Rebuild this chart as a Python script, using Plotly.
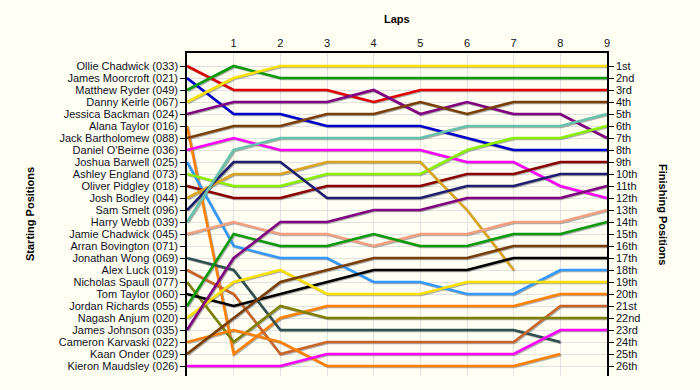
import plotly.graph_objects as go

# ---------------- data ----------------
laps = [0, 1, 2, 3, 4, 5, 6, 7, 8, 9]
lap_ticks = [1, 2, 3, 4, 5, 6, 7, 8, 9]

drivers = [
    "Ollie Chadwick (033)", "James Moorcroft (021)", "Matthew Ryder (049)",
    "Danny Keirle (067)", "Jessica Backman (024)", "Alana Taylor (016)",
    "Jack Bartholomew (088)", "Daniel O'Beirne (036)", "Joshua Barwell (025)",
    "Ashley England (073)", "Oliver Pidgley (018)", "Josh Bodley (044)",
    "Sam Smelt (096)", "Harry Webb (039)", "Jamie Chadwick (045)",
    "Arran Bovington (071)", "Jonathan Wong (069)", "Alex Luck (019)",
    "Nicholas Spaull (077)", "Tom Taylor (060)", "Jordan Richards (055)",
    "Nagash Anjum (020)", "James Johnson (035)", "Cameron Karvaski (022)",
    "Kaan Onder (029)", "Kieron Maudsley (026)",
]

finish_labels = [
    "1st", "2nd", "3rd", "4th", "5th", "6th", "7th", "8th", "9th", "10th",
    "11th", "12th", "13th", "14th", "15th", "16th", "17th", "18th", "19th",
    "20th", "21st", "22nd", "23rd", "24th", "25th", "26th",
]

# position of each driver at the end of each lap (lap 0 = grid)
p033 = [1, 3, 3, 3, 4, 3, 3, 3, 3, 3]
p021 = [2, 5, 5, 6, 6, 6, 7, 8, 8, 8]
p049 = [3, 1, 2, 2, 2, 2, 2, 2, 2, 2]
p067 = [4, 2, 1, 1, 1, 1, 1, 1, 1, 1]
p024 = [5, 4, 4, 4, 3, 5, 4, 5, 5, 7]
p016 = [6, 25, 22, 21, 21, 21, 21, 21, 20, 20]
p088 = [7, 6, 6, 5, 5, 4, 5, 4, 4, 4]
p036 = [8, 7, 8, 8, 8, 8, 9, 9, 11, 12]
p025 = [9, 16, 17, 17, 19, 19, 20, 20, 18, 18]
p073 = [10, 11, 11, 10, 10, 10, 8, 7, 7, 6]
p018 = [11, 12, 12, 11, 11, 11, 10, 10, 9, 9]
p044 = [12, 10, 10, 9, 9, 9, 13, 18]
p096 = [13, 9, 9, 12, 12, 12, 11, 11, 10, 10]
p039 = [14, 8, 7, 7, 7, 7, 6, 6, 6, 5]
p045 = [15, 14, 15, 15, 16, 15, 15, 14, 14, 13]
p071 = [16, 13, 13, 13, 14, 14, 14, 13, 13, 15]
p069 = [17, 18, 23, 23, 23, 23, 23, 23, 24]
p019 = [18, 20, 25, 24, 24, 24, 24, 24, 21, 21]
p077 = [19, 24, 21, 22, 22, 22, 22, 22, 22, 22]
p060 = [20, 21, 20, 19, 18, 18, 18, 17, 17, 17]
p055 = [21, 15, 16, 16, 15, 16, 16, 15, 15, 14]
p020 = [22, 19, 18, 20, 20, 20, 19, 19, 19, 19]
p035 = [23, 17, 14, 14, 13, 13, 12, 12, 12, 11]
p022 = [24, 23, 24, 26, 26, 26, 26, 26, 25]
p029 = [25, 22, 19, 18, 17, 17, 17, 16, 16, 16]
p026 = [26, 26, 26, 25, 25, 25, 25, 25, 23, 23]

positions = [p033, p021, p049, p067, p024, p016, p088, p036, p025, p073,
             p018, p044, p096, p039, p045, p071, p069, p019, p077, p060,
             p055, p020, p035, p022, p029, p026]

colors = [
    "#E00000", "#0000CC", "#0A9A0A", "#F8E000", "#800080", "#FF8000",
    "#7A3E08", "#FF00FF", "#3399FF", "#88F000", "#8B0000", "#DAA520",
    "#1E1E6E", "#66C2AA", "#F4A080", None, "#2F4F4F", "#C8642A",
    "#808000", "#000000", "#0A9A0A", "#F8E000", "#800080", "#FF8000",
    "#7A3E08", "#FF00FF",
]

# ---------------- styling ----------------
BG = "#FFFFF4"
GRID = "#E2E2E2"
TXT = "#10101E"
FONT = "Liberation Sans, Arial, sans-serif"

W, H = 700, 390
ML, MR, MT, MB = 187, 93, 53, 14
plot_w = W - ML - MR
plot_h = H - MT - MB
x_rng = [0, 9]
y_top = -0.083
y_bot = y_top + plot_h / 12.0
px_x = (x_rng[1] - x_rng[0]) / plot_w      # data units per px
px_y = (y_bot - y_top) / plot_h

fig = go.Figure()

# shadows (base subplot, shifted 1 px right/down)
for name, pos, col in zip(drivers, positions, colors):
    if col is None:
        continue
    fig.add_trace(go.Scatter(
        x=laps[:len(pos)], y=pos, mode="lines", xaxis="x", yaxis="y",
        line=dict(color="rgba(110,110,110,0.55)", width=2.6),
        hoverinfo="skip", showlegend=False))

# main lines
for name, pos, col in zip(drivers, positions, colors):
    if col is None:
        continue
    fig.add_trace(go.Scatter(
        x=laps[:len(pos)], y=pos, mode="lines", xaxis="x2", yaxis="y2",
        name=name, line=dict(color=col, width=2.6), showlegend=False))

# empty trace so that the right-hand (finishing) axis is created
fig.add_trace(go.Scatter(x=[None], y=[None], mode="lines", xaxis="x2", yaxis="y3",
                         hoverinfo="skip", showlegend=False))

fig.update_layout(
    width=W, height=H,
    margin=dict(l=ML, r=MR, t=MT, b=MB, pad=0),
    paper_bgcolor=BG, plot_bgcolor=BG,
    font=dict(family=FONT, size=11, color=TXT),
    showlegend=False,
    xaxis=dict(range=[x_rng[0] - px_x, x_rng[1] - px_x], visible=False,
               domain=[0, 1], fixedrange=True),
    yaxis=dict(range=[y_bot - px_y, y_top - px_y], visible=False,
               domain=[0, 1], fixedrange=True),
    xaxis2=dict(overlaying="x", side="top", range=x_rng, anchor="y2",
                tickmode="array", tickvals=lap_ticks, ticks="",
                showgrid=True, gridcolor=GRID, gridwidth=1, zeroline=False,
                showline=True, linecolor="#000000", linewidth=1.5,
                tickfont=dict(size=11, color=TXT)),
    yaxis2=dict(overlaying="y", side="left", anchor="x2", range=[y_bot, y_top],
                tickmode="array", tickvals=list(range(1, 27)), ticktext=drivers,
                ticks="outside", ticklen=5, tickcolor="#000000", tickwidth=1,
                showgrid=True, gridcolor=GRID, gridwidth=1, zeroline=False,
                showline=True, linecolor="#000000", linewidth=1.5,
                tickfont=dict(size=11, color=TXT)),
    yaxis3=dict(overlaying="y", side="right", anchor="x2", range=[y_bot, y_top],
                tickmode="array", tickvals=list(range(1, 27)), ticktext=finish_labels,
                ticks="outside", ticklen=5, tickcolor="#000000", tickwidth=1,
                showgrid=False, zeroline=False,
                showline=True, linecolor="#000000", linewidth=1.5,
                tickfont=dict(size=11, color=TXT)),
)

# titles placed by pixel position (converted to paper coordinates)
def paper_xy(px, py):
    return (px - ML) / plot_w, 1 - (py - MT) / plot_h

title_specs = [
    ("<b>Laps</b>", ML + plot_w / 2, 19, 0),
    ("<b>Starting Positions</b>", 30, 214, -90),
    ("<b>Finishing Positions</b>", 663, 214, 90),
]
for text, px, py, ang in title_specs:
    ax_, ay_ = paper_xy(px, py)
    fig.add_annotation(text=text, x=ax_, y=ay_, xref="paper", yref="paper",
                       showarrow=False, textangle=ang, xanchor="center",
                       yanchor="middle", font=dict(size=11, color="#000"))

fig.write_html(
    "out.html",
    config={"displayModeBar": False},
    post_script="document.body.style.margin='0';document.body.style.background='%s';" % BG,
)
